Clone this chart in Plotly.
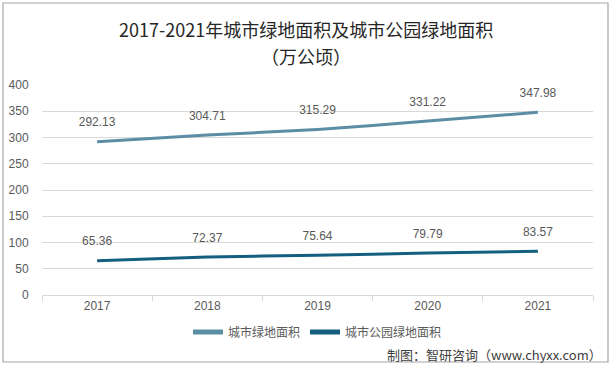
import plotly.graph_objects as go

years = ["2017", "2018", "2019", "2020", "2021"]
green_area = [292.13, 304.71, 315.29, 331.22, 347.98]
park_area = [65.36, 72.37, 75.64, 79.79, 83.57]
series_names = ["城市绿地面积", "城市公园绿地面积"]
title_line1 = "2017-2021年城市绿地面积及城市公园绿地面积"
title_line2 = "（万公顷）"
source_text = "制图：智研咨询（www.chyxx.com）"

W, H = 612, 370
L, R, T, B = 42, 19, 85, 75
pw, ph = W - L - R, H - T - B

def px(x):
    return (x - L) / pw

def py(y):
    return (H - B - y) / ph

label_font = dict(family="Liberation Sans, Arial, sans-serif", size=12, color="#595959")

fig = go.Figure()
fig.add_trace(go.Scatter(
    x=years, y=green_area, name=series_names[0], mode="lines+markers+text",
    line=dict(color="#5B8DA4", width=3, shape="spline", smoothing=0.6),
    marker=dict(size=18, color="rgba(0,0,0,0)"),
    text=[f"{v:.2f}" for v in green_area], textposition="top center",
    textfont=label_font, cliponaxis=False,
))
fig.add_trace(go.Scatter(
    x=years, y=park_area, name=series_names[1], mode="lines+markers+text",
    line=dict(color="#145F80", width=3, shape="spline", smoothing=0.6),
    marker=dict(size=18, color="rgba(0,0,0,0)"),
    text=[f"{v:.2f}" for v in park_area], textposition="top center",
    textfont=label_font, cliponaxis=False,
))

fig.update_layout(
    width=W, height=H,
    margin=dict(l=L, r=R, t=T, b=B, autoexpand=False),
    paper_bgcolor="white", plot_bgcolor="white",
    showlegend=True,
    legend=dict(orientation="h", x=0.5, xanchor="center", y=py(332), yanchor="middle",
                font=dict(family="Noto Sans CJK SC", size=12, color="#595959"),
                itemwidth=30, bgcolor="rgba(0,0,0,0)", itemsizing="constant"),
    xaxis=dict(type="category", showgrid=False, showline=True, linecolor="#D9D9D9",
               linewidth=1, ticks="outside", tickson="boundaries", ticklen=5,
               tickcolor="#D9D9D9", tickfont=label_font, zeroline=False,
               range=[-0.5, 4.5]),
    yaxis=dict(range=[0, 400], dtick=50, showgrid=True, gridcolor="#D9D9D9",
               gridwidth=1, zeroline=False, showline=False, ticks="outside",
               ticklen=10, tickcolor="rgba(0,0,0,0)", tickfont=label_font),
    annotations=[
        dict(text=title_line1, x=0.5, xref="paper", y=py(29), yref="paper",
             xanchor="center", yanchor="middle", showarrow=False,
             font=dict(family="Noto Sans CJK SC", size=18, color="#262626"), xshift=-12),
        dict(text=title_line2, x=0.5, xref="paper", y=py(56), yref="paper",
             xanchor="center", yanchor="middle", showarrow=False,
             font=dict(family="Noto Sans CJK SC", size=18, color="#262626"), xshift=-12),
        dict(text=source_text, x=px(604), xref="paper", y=py(354), yref="paper",
             xanchor="right", yanchor="middle", showarrow=False,
             font=dict(family="Noto Sans CJK SC", size=13, color="#404040")),
    ],
    shapes=[
        dict(type="rect", xref="paper", yref="paper",
             x0=px(3), x1=px(608), y0=py(362), y1=py(3),
             line=dict(color="#A6A6A6", width=1.2), fillcolor="rgba(0,0,0,0)", layer="below"),
    ],
)

fig.write_html("out.html", config={"displayModeBar": False},
               post_script="document.body.style.margin='0';document.body.style.overflow='hidden';")
